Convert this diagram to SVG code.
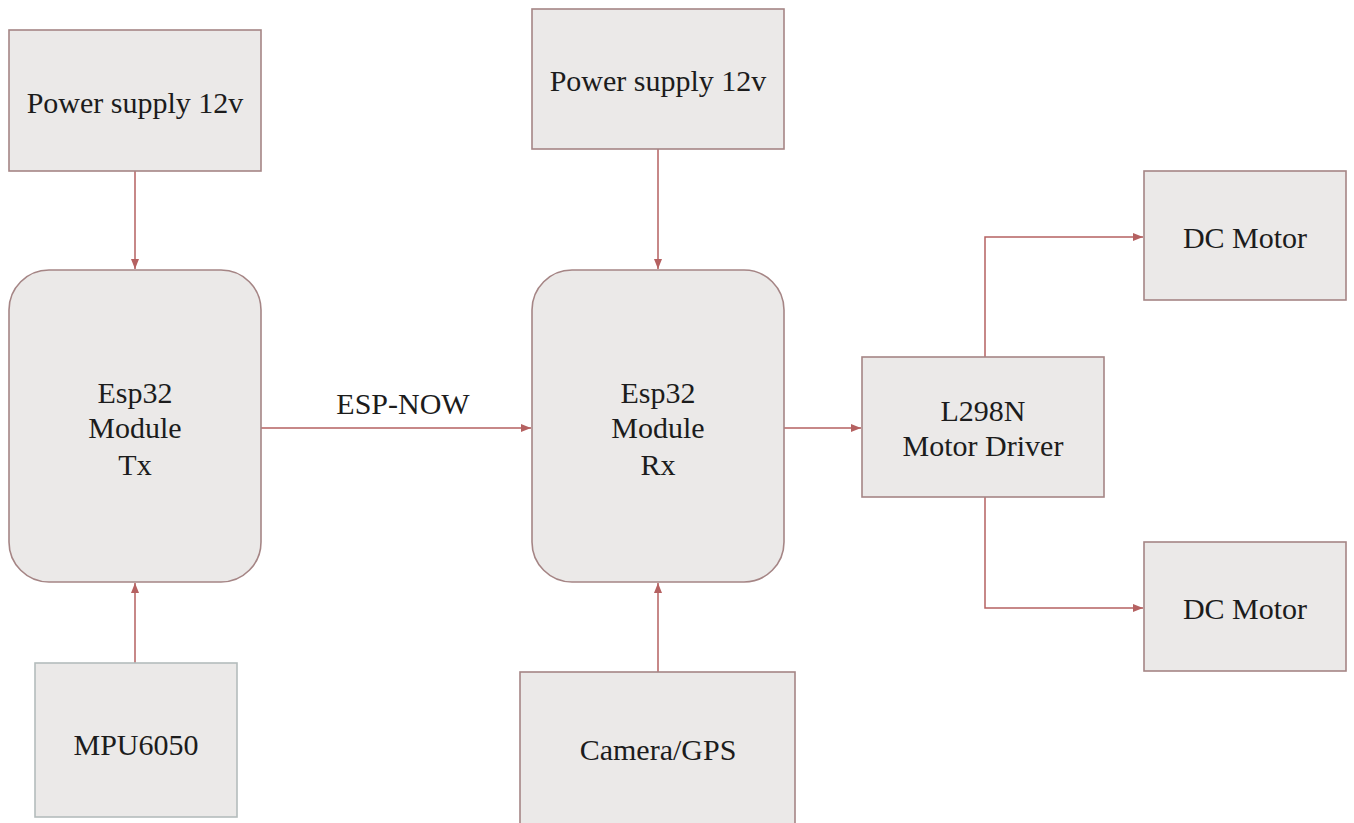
<svg xmlns="http://www.w3.org/2000/svg" width="1354" height="823" viewBox="0 0 1354 823">
<style>
.box{fill:#ebe9e8;stroke:#a58585;stroke-width:1.6}
.gbox{fill:#ebe9e8;stroke:#b4bcbc;stroke-width:1.6}
.t{font-family:"Liberation Serif","Times New Roman",serif;font-size:30px;fill:#1c1c1c;text-anchor:middle}
.c{fill:none;stroke:#b56161;stroke-width:1.5}
</style>
<defs>
<marker id="ah" markerWidth="10" markerHeight="8" refX="10" refY="4" orient="auto" markerUnits="userSpaceOnUse">
<path d="M0,0 L10,4 L0,8 z" fill="#b56161"/>
</marker>
</defs>
<rect width="1354" height="823" fill="#ffffff"/>
<g id="connectors">
<line class="c" x1="135" y1="171" x2="135" y2="269" marker-end="url(#ah)"/>
<line class="c" x1="135" y1="663" x2="135" y2="583" marker-end="url(#ah)"/>
<line class="c" x1="261" y1="428" x2="531" y2="428" marker-end="url(#ah)"/>
<line class="c" x1="658" y1="149" x2="658" y2="269" marker-end="url(#ah)"/>
<line class="c" x1="658" y1="672" x2="658" y2="583" marker-end="url(#ah)"/>
<line class="c" x1="784" y1="428" x2="861" y2="428" marker-end="url(#ah)"/>
<polyline class="c" points="985,357 985,237 1143,237" marker-end="url(#ah)"/>
<polyline class="c" points="985,497 985,608 1143,608" marker-end="url(#ah)"/>
<text class="t" x="403" y="414">ESP-NOW</text>
</g>
<g id="ps1">
<rect class="box" x="9" y="30" width="252" height="141"/>
<text class="t" x="135" y="113">Power supply 12v</text>
</g>
<g id="esp-tx">
<rect class="box" x="9" y="270" width="252" height="312" rx="40" ry="40"/>
<text class="t" x="135" y="403">Esp32</text>
<text class="t" x="135" y="438">Module</text>
<text class="t" x="135" y="475">Tx</text>
</g>
<g id="mpu">
<rect class="gbox" x="35" y="663" width="202" height="154"/>
<text class="t" x="136" y="755">MPU6050</text>
</g>
<g id="ps2">
<rect class="box" x="532" y="9" width="252" height="140"/>
<text class="t" x="658" y="91">Power supply 12v</text>
</g>
<g id="esp-rx">
<rect class="box" x="532" y="270" width="252" height="312" rx="40" ry="40"/>
<text class="t" x="658" y="403">Esp32</text>
<text class="t" x="658" y="438">Module</text>
<text class="t" x="658" y="475">Rx</text>
</g>
<g id="cam">
<rect class="box" x="520" y="672" width="275" height="160"/>
<text class="t" x="658" y="760">Camera/GPS</text>
</g>
<g id="l298n">
<rect class="box" x="862" y="357" width="242" height="140"/>
<text class="t" x="983" y="421">L298N</text>
<text class="t" x="983" y="456">Motor Driver</text>
</g>
<g id="dc1">
<rect class="box" x="1144" y="171" width="202" height="129"/>
<text class="t" x="1245" y="248">DC Motor</text>
</g>
<g id="dc2">
<rect class="box" x="1144" y="542" width="202" height="129"/>
<text class="t" x="1245" y="619">DC Motor</text>
</g>
</svg>
